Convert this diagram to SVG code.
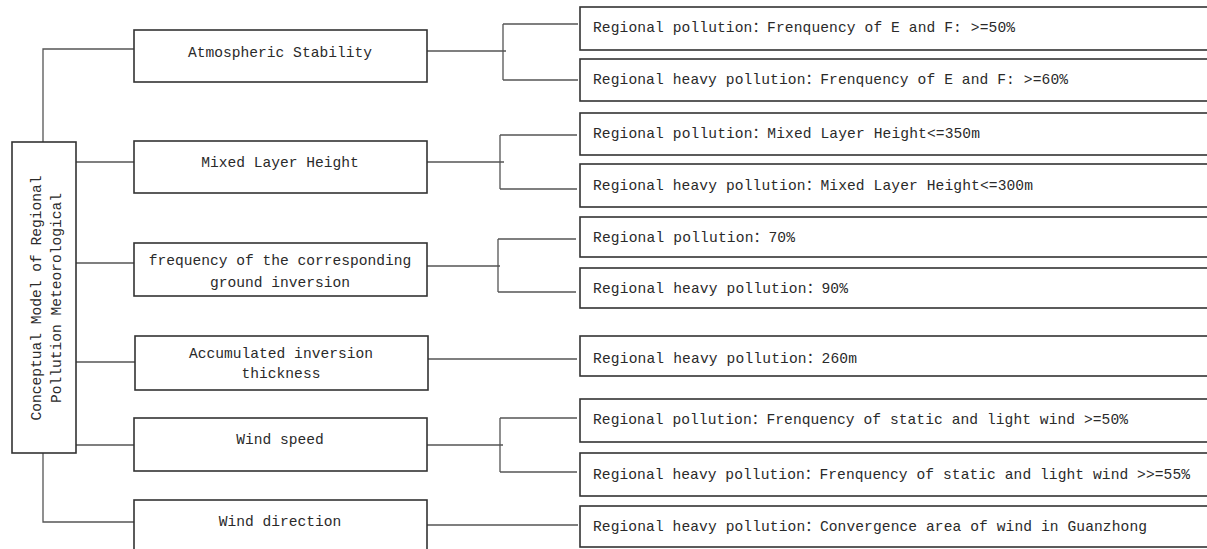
<svg xmlns="http://www.w3.org/2000/svg" width="1207" height="549" viewBox="0 0 1207 549">
<style>
.box{fill:#fff;stroke:#333;stroke-width:1.6}
.t{font-family:"Liberation Mono","Noto Sans CJK SC",monospace;font-size:14.6px;fill:#2a2a2a}
.m{text-anchor:middle}
.c{fill:none;stroke:#555;stroke-width:1.3}
</style>
<rect width="1207" height="549" fill="#fff"/>
<g id="connectors">
<path class="c" d="M43 142V49H134"/>
<path class="c" d="M76 162H134"/>
<path class="c" d="M76 263H134"/>
<path class="c" d="M76 362H135"/>
<path class="c" d="M76 445H134"/>
<path class="c" d="M43 453V522H134"/>
<path class="c" d="M427 51H506M503 24V80M503 24H578M503 80H578"/>
<path class="c" d="M427 162H504M500 135V189M500 135H577M500 189H577"/>
<path class="c" d="M427 266H500M498 239V292M498 239H576M498 292H576"/>
<path class="c" d="M428 359H577"/>
<path class="c" d="M427 445H503M500 418V472M500 418H577M500 472H577"/>
<path class="c" d="M427 525H578"/>
</g>
<g id="root">
<rect class="box" x="12" y="142" width="64" height="311"/>
<text class="t m" transform="translate(41,298) rotate(-90)">Conceptual Model of Regional</text>
<text class="t m" transform="translate(61,298) rotate(-90)">Pollution Meteorological</text>
</g>
<g id="n-atm">
<rect class="box" x="134" y="30" width="293" height="52"/>
<text class="t m" x="280" y="57">Atmospheric Stability</text>
</g>
<g id="n-mixed">
<rect class="box" x="134" y="141" width="293" height="52"/>
<text class="t m" x="280" y="167">Mixed Layer Height</text>
</g>
<g id="n-freq">
<rect class="box" x="134" y="243" width="293" height="53"/>
<text class="t m" x="280" y="265">frequency of the corresponding</text>
<text class="t m" x="280" y="287">ground inversion</text>
</g>
<g id="n-acc">
<rect class="box" x="135" y="336" width="293" height="54"/>
<text class="t m" x="281" y="358">Accumulated inversion</text>
<text class="t m" x="281" y="378">thickness</text>
</g>
<g id="n-wspeed">
<rect class="box" x="134" y="418" width="293" height="53"/>
<text class="t m" x="280" y="444">Wind speed</text>
</g>
<g id="n-wdir">
<rect class="box" x="134" y="500" width="293" height="60"/>
<text class="t m" x="280" y="526">Wind direction</text>
</g>
<g id="l2-1">
<rect class="box" x="580" y="7" width="640" height="43"/>
<text class="t" x="593" y="32" textLength="422">Regional pollution：Frenquency of E and F: &gt;=50%</text>
</g>
<g id="l2-2">
<rect class="box" x="580" y="59" width="640" height="42"/>
<text class="t" x="593" y="84" textLength="475">Regional heavy pollution：Frenquency of E and F: &gt;=60%</text>
</g>
<g id="l2-3">
<rect class="box" x="580" y="113" width="640" height="42"/>
<text class="t" x="593" y="138" textLength="387">Regional pollution：Mixed Layer Height&lt;=350m</text>
</g>
<g id="l2-4">
<rect class="box" x="580" y="164" width="640" height="43"/>
<text class="t" x="593" y="190" textLength="440">Regional heavy pollution：Mixed Layer Height&lt;=300m</text>
</g>
<g id="l2-5">
<rect class="box" x="580" y="217" width="640" height="40"/>
<text class="t" x="593" y="242" textLength="202">Regional pollution：70%</text>
</g>
<g id="l2-6">
<rect class="box" x="580" y="268" width="640" height="40"/>
<text class="t" x="593" y="293" textLength="255">Regional heavy pollution：90%</text>
</g>
<g id="l2-7">
<rect class="box" x="580" y="336" width="640" height="40"/>
<text class="t" x="593" y="363" textLength="264">Regional heavy pollution：260m</text>
</g>
<g id="l2-8">
<rect class="box" x="580" y="399" width="640" height="43"/>
<text class="t" x="593" y="424" textLength="535">Regional pollution：Frenquency of static and light wind &gt;=50%</text>
</g>
<g id="l2-9">
<rect class="box" x="580" y="453" width="640" height="43"/>
<text class="t" x="593" y="479" textLength="597">Regional heavy pollution：Frenquency of static and light wind &gt;&gt;=55%</text>
</g>
<g id="l2-10">
<rect class="box" x="580" y="506" width="640" height="41"/>
<text class="t" x="593" y="531" textLength="554">Regional heavy pollution：Convergence area of wind in Guanzhong</text>
</g>
</svg>
